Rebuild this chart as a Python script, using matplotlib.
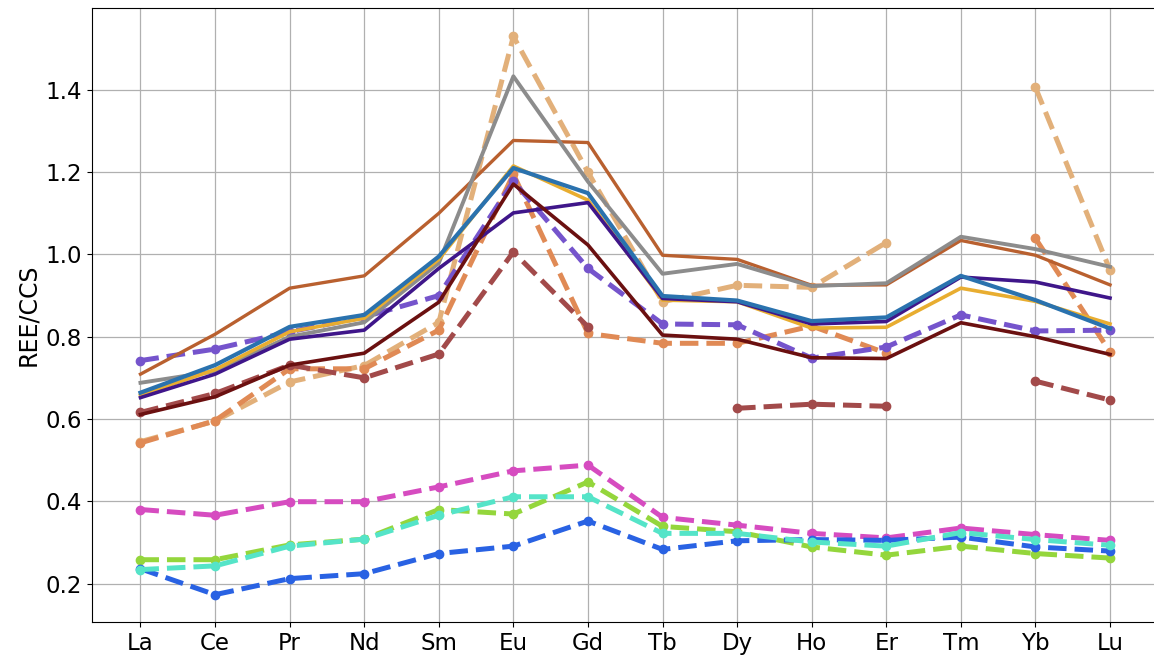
import numpy as np
import matplotlib
matplotlib.use("Agg")
import matplotlib.pyplot as plt

nan = np.nan
elements = ['La', 'Ce', 'Pr', 'Nd', 'Sm', 'Eu', 'Gd', 'Tb', 'Dy', 'Ho', 'Er', 'Tm', 'Yb', 'Lu']

# dashed series (with markers)
tan_d = [0.545, 0.595, 0.690, 0.730, 0.835, 1.530, 1.200, 0.885, 0.925, 0.920, 1.029, nan, 1.406, 0.962]
orange_d = [0.542, 0.596, 0.722, 0.722, 0.816, 1.195, 0.808, 0.784, 0.784, 0.826, 0.760, nan, 1.039, 0.763]
purple_d = [0.742, 0.770, 0.812, 0.848, 0.900, 1.178, 0.966, 0.831, 0.829, 0.748, 0.775, 0.853, 0.814, 0.816]
brown_d = [0.616, 0.662, 0.731, 0.700, 0.758, 1.006, 0.824, nan, 0.626, 0.636, 0.631, nan, 0.692, 0.646]
pink_d = [0.380, 0.366, 0.399, 0.399, 0.435, 0.474, 0.488, 0.361, 0.342, 0.322, 0.311, 0.335, 0.319, 0.305]
green_d = [0.258, 0.258, 0.294, 0.308, 0.380, 0.369, 0.447, 0.339, 0.326, 0.289, 0.269, 0.291, 0.273, 0.262]
blue_d = [0.236, 0.173, 0.212, 0.224, 0.273, 0.291, 0.352, 0.283, 0.304, 0.307, 0.305, 0.313, 0.289, 0.279]
turq_d = [0.234, 0.243, 0.291, 0.308, 0.366, 0.411, 0.411, 0.322, 0.322, 0.301, 0.291, 0.324, 0.307, 0.293]

# solid series
sienna_s = [0.709, 0.806, 0.918, 0.948, 1.100, 1.277, 1.272, 0.998, 0.988, 0.925, 0.926, 1.034, 0.998, 0.926]
gray_s = [0.688, 0.716, 0.800, 0.835, 0.979, 1.433, 1.177, 0.953, 0.977, 0.923, 0.930, 1.043, 1.013, 0.970]
gold_s = [0.658, 0.720, 0.812, 0.845, 0.988, 1.215, 1.132, 0.889, 0.885, 0.821, 0.823, 0.918, 0.886, 0.831]
indigo_s = [0.652, 0.709, 0.794, 0.816, 0.966, 1.101, 1.126, 0.893, 0.885, 0.831, 0.837, 0.945, 0.933, 0.894]
steel_s = [0.664, 0.731, 0.824, 0.853, 0.995, 1.210, 1.149, 0.899, 0.888, 0.838, 0.847, 0.948, 0.889, 0.820]
maroon_s = [0.611, 0.654, 0.731, 0.760, 0.884, 1.171, 1.023, 0.804, 0.794, 0.749, 0.747, 0.834, 0.800, 0.757]

dashed = [
    (tan_d, '#e2b07a'),
    (orange_d, '#e08a55'),
    (purple_d, '#7554cc'),
    (brown_d, '#a24a4a'),
    (pink_d, '#d64cc0'),
    (green_d, '#94d63c'),
    (blue_d, '#2962e3'),
    (turq_d, '#55e4c8'),
]
solid = [
    (sienna_s, '#b9602f', 2.4),
    (gray_s, '#8c8c8c', 2.8),
    (gold_s, '#e8ad30', 2.6),
    (indigo_s, '#3f168a', 2.6),
    (steel_s, '#2a72ae', 3.0),
    (maroon_s, '#6b1010', 2.6),
]

fig = plt.figure(figsize=(11.54, 6.57), dpi=100)
ax = fig.add_axes([92 / 1154, 35 / 657, (1158.5 - 92) / 1154, (622 - 8) / 657])
x = np.arange(len(elements))

for vals, c in dashed:
    ax.plot(x, vals, linestyle='--', color=c, linewidth=3.6, marker='o', markersize=6)
for vals, c, lw in solid:
    ax.plot(x, vals, linestyle='-', color=c, linewidth=lw)

ax.set_xticks(x)
ax.set_xticklabels(elements)
ax.set_xlim(-0.65, 13.65)
ax.set_ylim(0.1066, 1.599)
ax.set_yticks([0.2, 0.4, 0.6, 0.8, 1.0, 1.2, 1.4])
ax.grid(True, color='#b0b0b0', linewidth=0.9)
ax.set_axisbelow(True)
ax.tick_params(labelsize=16.5)
ax.set_ylabel('REE/CCS', fontsize=17)

fig.savefig('out.png', dpi=100)
